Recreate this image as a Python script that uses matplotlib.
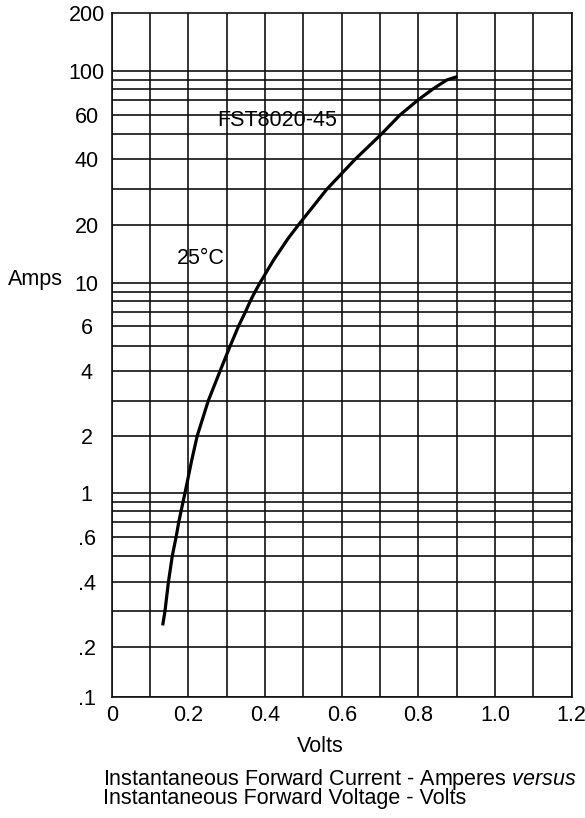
import matplotlib
matplotlib.use("Agg")
import matplotlib.pyplot as plt
from matplotlib.ticker import FixedLocator, NullFormatter
import numpy as np

plt.rcParams['font.family'] = ['Liberation Sans', 'DejaVu Sans']
plt.rcParams['mathtext.fontset'] = 'custom'
plt.rcParams['mathtext.rm'] = 'Liberation Sans'
plt.rcParams['mathtext.it'] = 'Liberation Sans:italic'

# Data (forward voltage V, forward current A)
volts = [0.133, 0.139, 0.148, 0.158, 0.168, 0.175, 0.181, 0.186, 0.191,
         0.209, 0.223, 0.252, 0.283, 0.309, 0.331, 0.349, 0.362, 0.374,
         0.387, 0.422, 0.460, 0.487, 0.561, 0.635, 0.703, 0.752, 0.800,
         0.839, 0.874, 0.902]
amps = [0.255, 0.3, 0.4, 0.5, 0.6, 0.7, 0.8, 0.9, 1.0,
        1.5, 2.0, 3.0, 4.0, 5.0, 6.0, 7.0, 8.0, 9.0,
        10.0, 13.1, 17.0, 20.0, 30.0, 40.0, 50.0, 60.0, 70.0,
        80.0, 90.0, 93.6]

x_ticks = [0, 0.2, 0.4, 0.6, 0.8, 1.0, 1.2]
x_tick_labels = ['0', '0.2', '0.4', '0.6', '0.8', '1.0', '1.2']
x_grid = [0.1, 0.3, 0.5, 0.7, 0.9, 1.1]
y_ticks = [0.1, 0.2, 0.4, 0.6, 1, 2, 4, 6, 10, 20, 40, 60, 100, 200]
y_tick_labels = ['.1', '.2', '.4', '.6', '1', '2', '4', '6', '10', '20', '40', '60', '100', '200']
y_grid = [0.1, 0.2, 0.3, 0.4, 0.5, 0.6, 0.7, 0.8, 0.9,
          1, 2, 3, 4, 5, 6, 7, 8, 9,
          10, 20, 30, 40, 50, 60, 70, 80, 90, 100]

# The printed chart's log paper is hand-ruled; this scale follows its rulings
# (value of each ruling -> its height on the sheet, top at 13.3, bottom at 696.7)
scale_vals = [0.1, 0.2, 0.3, 0.4, 0.5, 0.6, 0.7, 0.8, 0.9, 1,
              2, 3, 4, 5, 6, 7, 8, 9, 10,
              20, 30, 40, 50, 60, 70, 80, 90, 100, 200]
scale_rows = [696.7, 647, 611, 582, 556, 537, 522, 511, 502, 493.3,
              436, 400.7, 370.7, 346, 326, 311.7, 300.7, 291.7, 282.7,
              225, 189.3, 159.3, 134.3, 115, 99.7, 88.7, 80, 70.7, 13.3]
_lv = np.log10(scale_vals)
_rv = -np.array(scale_rows)


def _extrap(x, xp, fp):
    x = np.asarray(x, dtype=float)
    out = np.interp(x, xp, fp)
    s0 = (fp[1] - fp[0]) / (xp[1] - xp[0])
    s1 = (fp[-1] - fp[-2]) / (xp[-1] - xp[-2])
    out = np.where(x < xp[0], fp[0] + (x - xp[0]) * s0, out)
    out = np.where(x > xp[-1], fp[-1] + (x - xp[-1]) * s1, out)
    return out


def fwd(y):
    y = np.clip(np.asarray(y, dtype=float), 1e-6, None)
    return _extrap(np.log10(y), _lv, _rv)


def inv(p):
    return 10 ** _extrap(np.asarray(p, dtype=float), _rv, _lv)


W, H = 585, 818
fig = plt.figure(figsize=(W / 100, H / 100), dpi=100)
ax = fig.add_axes([111.7 / W, 1 - 696.7 / H, 460 / W, (696.7 - 13.3) / H])
ax.set_yscale('function', functions=(fwd, inv))
ax.set_xlim(0, 1.2)
ax.set_ylim(0.1, 200)

gc = '#111111'
for xv in x_ticks + x_grid:
    ax.axvline(xv, color=gc, lw=1.2, zorder=1)
for yv in y_grid:
    ax.axhline(yv, color=gc, lw=1.2, zorder=1)

ax.plot(volts, amps, color='black', lw=2.3, zorder=3, solid_capstyle='butt',
        solid_joinstyle='round')

fs = 15.5
ax.xaxis.set_major_locator(FixedLocator(x_ticks))
ax.set_xticklabels(x_tick_labels)
ax.yaxis.set_major_locator(FixedLocator(y_ticks))
ax.yaxis.set_minor_locator(FixedLocator([]))
ax.yaxis.set_minor_formatter(NullFormatter())
ax.set_yticklabels(y_tick_labels)
ax.tick_params(axis='both', length=0, labelsize=fs)
ax.tick_params(axis='x', pad=6)
ax.tick_params(axis='y', pad=18)
for lab in ax.get_yticklabels():
    lab.set_horizontalalignment('center')
for s in ax.spines.values():
    s.set_color(gc)
    s.set_linewidth(1.2)

ax.text(0.275, 57, 'FST8020-45', fontsize=fs, ha='left', va='center')
ax.text(0.171, 13.4, '25°C', fontsize=fs, ha='left', va='center')

fig.text(8 / W, 1 - 279 / H, 'Amps', fontsize=fs, ha='left', va='center')
fig.text(320 / W, 1 - 746 / H, 'Volts', fontsize=fs, ha='center', va='center')

fig.text(103 / W, 1 - 788 / H,
         'Instantaneous Forward Current - Amperes $\\mathit{versus}$\n'
         'Instantaneous Forward Voltage - Volts',
         fontsize=fs, ha='left', va='center', linespacing=0.75)

fig.savefig('out.png', dpi=100)
